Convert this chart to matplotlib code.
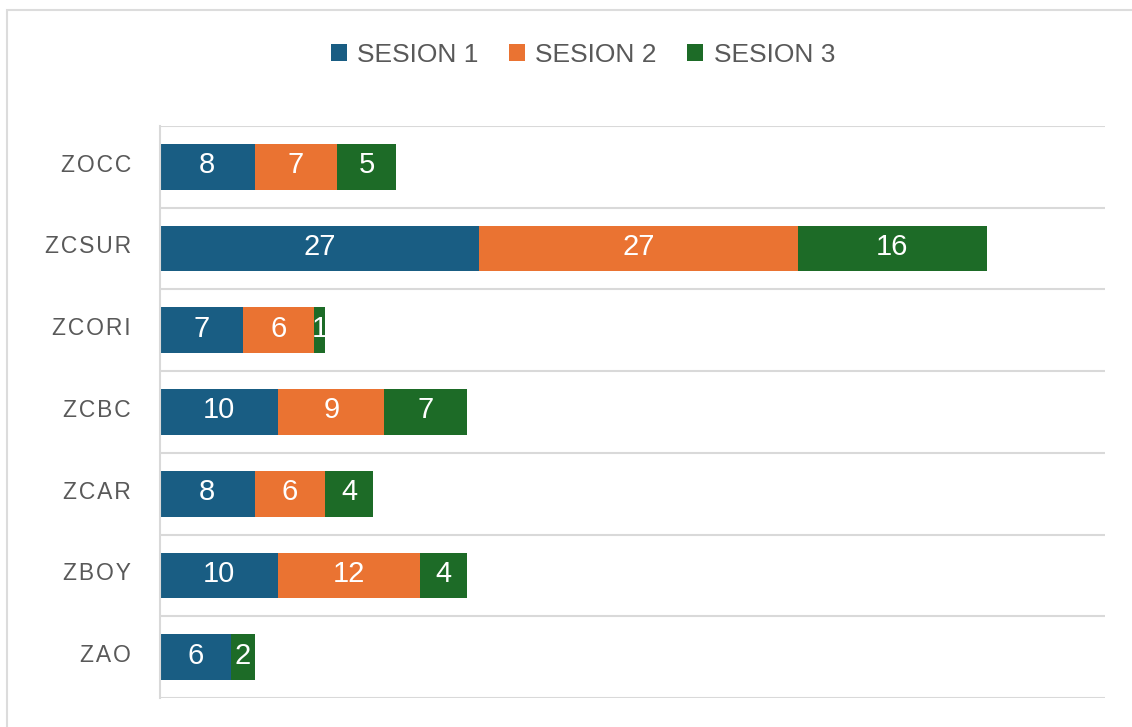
import matplotlib
matplotlib.use("Agg")
import matplotlib.pyplot as plt
import matplotlib.transforms as mtransforms
from matplotlib.patches import Rectangle, Patch
from matplotlib.font_manager import fontManager

categories = ["ZOCC", "ZCSUR", "ZCORI", "ZCBC", "ZCAR", "ZBOY", "ZAO"]
series_names = ["SESION 1", "SESION 2", "SESION 3"]
sesion1 = [8, 27, 7, 10, 8, 10, 6]
sesion2 = [7, 27, 6, 9, 6, 12, 0]
sesion3 = [5, 16, 1, 7, 4, 4, 2]
colors = ["#195D83", "#EA7332", "#1D6B27"]

names = {f.name for f in fontManager.ttflist}
narrow = "Liberation Sans Narrow" if "Liberation Sans Narrow" in names else "Liberation Sans"

W, H = 1132, 727
fig = plt.figure(figsize=(W / 100, H / 100), dpi=100)
fig.patch.set_facecolor("white")

# outer chart border
fig.patches.append(Rectangle((7 / W, -0.1), 1.2, 1 - 10 / H + 0.1, transform=fig.transFigure,
                             fill=False, edgecolor="#DCDCDC", linewidth=1.5))

ax = fig.add_axes([160 / W, 1 - 698 / H, (1105 - 160) / W, (698 - 126) / H])
n = len(categories)
ypos = list(range(n))
left = [0] * n
for vals, name, col in zip([sesion1, sesion2, sesion3], series_names, colors):
    bars = ax.barh(ypos, vals, left=left, height=0.56, color=col, label=name)
    for b, v in zip(bars, vals):
        if v > 0:
            ax.text(b.get_x() + b.get_width() / 2, b.get_y() + b.get_height() / 2 - 0.02, str(v),
                    ha="center", va="center", color="white", fontsize=21,
                    family=[narrow, "DejaVu Sans"])
    left = [l + v for l, v in zip(left, vals)]

ax.set_xlim(0, 80)
ax.set_ylim(n - 0.5, -0.5)
ax.set_yticks(ypos)
ax.set_yticklabels(["\u200a".join(c) for c in categories], fontsize=16.5, color="#595959",
                   family="Liberation Sans")
ax.tick_params(axis="y", length=0, pad=21)
shift = mtransforms.ScaledTranslation(0, 3 / 72, fig.dpi_scale_trans)
for lbl in ax.get_yticklabels():
    lbl.set_transform(lbl.get_transform() + shift)
ax.set_xticks([])
ax.set_yticks([i + 0.5 for i in range(-1, n)], minor=True)
ax.tick_params(axis="y", which="minor", length=0)
ax.grid(axis="y", which="minor", color="#D9D9D9", linewidth=1.5)
ax.set_axisbelow(True)
for s in ["top", "right", "bottom"]:
    ax.spines[s].set_visible(False)
ax.spines["left"].set_color("#D9D9D9")
ax.spines["left"].set_linewidth(1.5)

handles = [Patch(facecolor=c, label=s) for c, s in zip(colors, series_names)]
fig.legend(handles=handles, loc="center", bbox_to_anchor=(583 / W, 1 - 55 / H), ncol=3,
           frameon=False, prop={"family": [narrow, "DejaVu Sans"], "size": 19},
           labelcolor="#595959", handlelength=0.6, handleheight=0.6, handletextpad=0.4,
           columnspacing=1.15)

fig.savefig("out.png", dpi=100, facecolor="white")
